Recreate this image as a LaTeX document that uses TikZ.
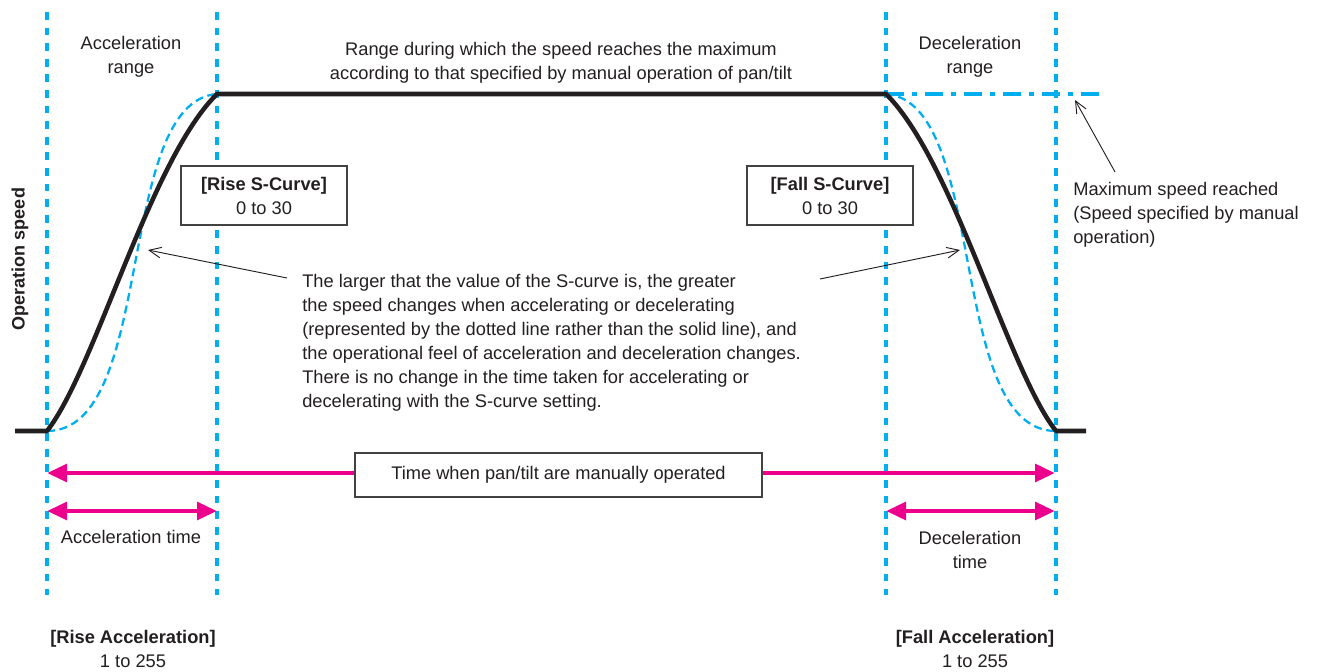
\documentclass[tikz,border=0pt]{standalone}
\usepackage{fontspec}
\setmainfont{Liberation Sans}
\usetikzlibrary{arrows.meta}
\definecolor{cy}{HTML}{00AEEF}
\definecolor{mg}{HTML}{EC008C}
\definecolor{tx}{HTML}{231F20}
\begin{document}
\begin{tikzpicture}[x=0.75pt,y=-0.75pt,
  font=\fontsize{13.7}{18}\selectfont, text=tx,
  guide/.style={cy, line width=3.6pt, dash pattern=on 5.8pt off 5.9pt},
  solidcurve/.style={tx, line width=3.4pt, line join=round},
  scurve/.style={cy, line width=1.7pt, dash pattern=on 6pt off 3.5pt},
  maxline/.style={cy, line width=3pt, dash pattern=on 13.5pt off 6pt on 3.8pt off 6pt},
  timearrow/.style={mg, line width=3.5pt, -{Triangle[length=15pt,width=13pt]}},
  timespan/.style={mg, line width=3.5pt, {Triangle[length=15pt,width=13pt]}-{Triangle[length=15pt,width=13pt]}},
  pointer/.style={tx, line width=0.7pt, -{Straight Barb[length=9pt,width=8pt]}},
  lbl/.style={align=center, inner sep=0pt},
  infobox/.style={draw=tx!85, line width=0.9pt, fill=white, align=center, inner sep=0pt}
]
\useasboundingbox (0,0) rectangle (1319,671);

% guide lines
\foreach \n/\x in {ga/47, gb/217, gc/886, gd/1056}{
  \coordinate (\n top) at (\x,12);
  \coordinate (\n bot) at (\x,595);
  \draw[guide] (\n top) -- (\n bot);
}

% curve points
\coordinate (s0) at (15,431);
\coordinate (a0) at (47,431);
\coordinate (a1) at (217,94);
\coordinate (d0) at (886,94);
\coordinate (d1) at (1056,431);
\coordinate (e1) at (1086,431);
\coordinate (mx) at (1105,94);

% maximum speed line
\draw[maxline] (d0) -- (mx);

% S-curves (dashed)
\draw[scurve] (a0) .. controls (157,431) and (114,102) .. (a1);
\draw[scurve] (d0) .. controls (989,102) and (946,431) .. (d1);

% solid profile
\draw[solidcurve] (s0) -- (a0) .. controls (95,370) and (150,160) .. (a1)
  -- (d0) .. controls (953,160) and (1008,370) .. (d1) -- (e1);

% texts
\node[lbl] (accr) at (131,57) {Acceleration\\range};
\node[lbl] (maxr) at (561,63) {Range during which the speed reaches the maximum\\according to that specified by manual operation of pan/tilt};
\node[lbl] (decr) at (970,57) {Deceleration\\range};

\node[infobox, minimum width=166*0.75pt, minimum height=59*0.75pt] (rbox) at (264,195.5) {\textbf{[Rise S-Curve]}\\0 to 30};
\node[infobox, minimum width=166*0.75pt, minimum height=59*0.75pt] (fbox) at (830,195.5) {\textbf{[Fall S-Curve]}\\0 to 30};

\node[lbl, rotate=90, font=\fontsize{13.5}{18}\selectfont\bfseries] (opsp) at (20,259) {Operation speed};

\node[inner sep=0pt, align=left, anchor=west] (note) at (302,343) {The larger that the value of the S-curve is, the greater\\the speed changes when accelerating or decelerating\\(represented by the dotted line rather than the solid line), and\\the operational feel of acceleration and deceleration changes.\\There is no change in the time taken for accelerating or\\decelerating with the S-curve setting.};

\node[inner sep=0pt, align=left, anchor=west] (maxs) at (1073,215) {Maximum speed reached\\(Speed specified by manual\\operation)};

% pointers
\coordinate (p1s) at (287,278);
\coordinate (p1e) at (148,250);
\coordinate (p2s) at (820,279);
\coordinate (p2e) at (960,250);
\coordinate (p3s) at (1115,172);
\coordinate (p3e) at (1075,100);
\draw[pointer] (p1s) -- (p1e);
\draw[pointer] (p2s) -- (p2e);
\draw[pointer] (p3s) -- (p3e);

% time arrows
\node[infobox, minimum width=407*0.75pt, minimum height=44*0.75pt] (tbox) at (558.5,475) {Time when pan/tilt are manually operated};
\coordinate (tl) at (47,473);
\coordinate (tr) at (1055,473);
\draw[timearrow] (tbox.west |- tl) -- (tl);
\draw[timearrow] (tbox.east |- tr) -- (tr);

\coordinate (al) at (47,511);
\coordinate (ar) at (217,511);
\coordinate (dl) at (886,511);
\coordinate (dr) at (1055,511);
\draw[timespan] (al) -- (ar);
\draw[timespan] (dl) -- (dr);

\node[lbl] (acct) at (131,537) {Acceleration time};
\node[lbl] (dect) at (970,550) {Deceleration\\time};

\node[lbl] (racc) at (133,649) {\textbf{[Rise Acceleration]}\\1 to 255};
\node[lbl] (facc) at (975,649) {\textbf{[Fall Acceleration]}\\1 to 255};
\end{tikzpicture}
\end{document}
